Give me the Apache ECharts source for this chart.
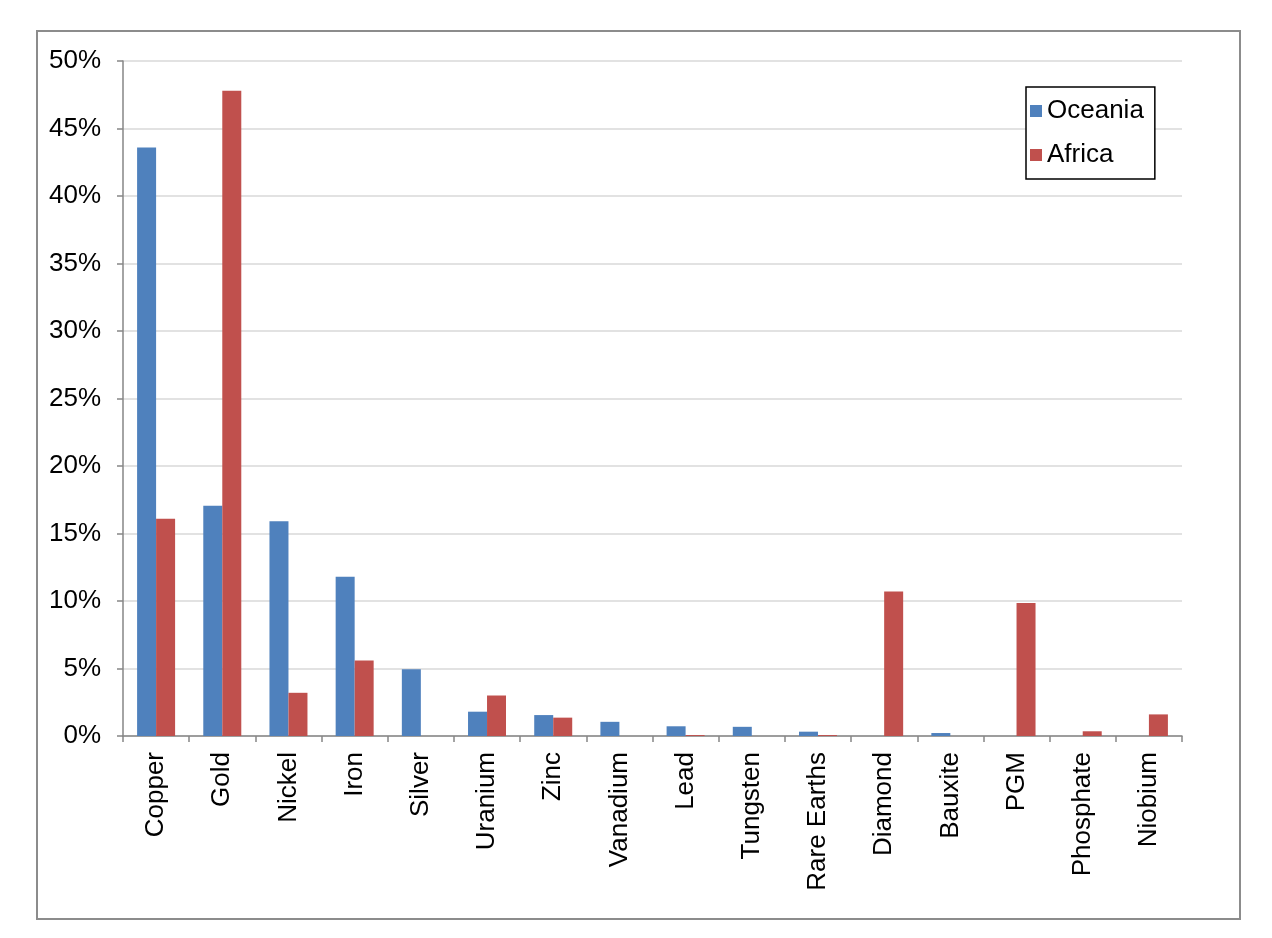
<!DOCTYPE html>
<html>
<head>
<meta charset="utf-8">
<script src="https://cdn.jsdelivr.net/npm/echarts@6/dist/echarts.min.js"></script>
<style>
  html, body { margin: 0; padding: 0; background: #fff; }
  .frame {
    position: absolute; left: 36px; top: 30px;
    width: 1201px; height: 886px;
    border: 2px solid #8c8c8c;
  }
  #chart { position: absolute; left: 0; top: 0; width: 1272px; height: 938px; }
</style>
</head>
<body>
<div class="frame"></div>
<div id="chart"></div>
<script>
const minerals = ["Copper", "Gold", "Nickel", "Iron", "Silver", "Uranium", "Zinc", "Vanadium",
  "Lead", "Tungsten", "Rare Earths", "Diamond", "Bauxite", "PGM", "Phosphate", "Niobium"];
const oceania = [43.6, 17.05, 15.9, 11.8, 4.95, 1.8, 1.55, 1.05, 0.72, 0.68, 0.32, 0, 0.22, 0, 0, 0];
const africa = [16.1, 47.8, 3.2, 5.6, 0, 3.0, 1.36, 0, 0.07, 0, 0.07, 10.7, 0, 9.85, 0.35, 1.6];
const yTicks = { min: 0, max: 50, step: 5 };

const font = "'Liberation Sans', Arial, sans-serif";
const myChart = echarts.init(document.getElementById("chart"));
myChart.setOption({
  animation: false,
  textStyle: { fontFamily: font },
  grid: { left: 123, right: 90, top: 61, bottom: 202 },
  legend: {
    orient: "vertical",
    left: 1026,
    top: 87,
    padding: [11, 11, 11, 4],
    itemGap: 18,
    itemWidth: 12,
    itemHeight: 12,
    icon: "rect",
    borderColor: "#000",
    borderWidth: 1.5,
    backgroundColor: "#fff",
    textStyle: { fontSize: 26, color: "#000", fontFamily: font },
    data: ["Oceania", "Africa"]
  },
  xAxis: {
    type: "category",
    data: minerals,
    axisLine: { lineStyle: { color: "#868686", width: 1.5 } },
    axisTick: { show: true, length: 6, lineStyle: { color: "#868686", width: 1.5 } },
    axisLabel: { rotate: 90, fontSize: 26, color: "#000", margin: 16, interval: 0 }
  },
  yAxis: {
    type: "value",
    min: yTicks.min,
    max: yTicks.max,
    interval: yTicks.step,
    axisLine: { show: true, lineStyle: { color: "#868686", width: 1.5 } },
    axisTick: { show: true, length: 6, lineStyle: { color: "#868686", width: 1.5 } },
    axisLabel: { formatter: "{value}%", fontSize: 26, color: "#000", margin: 22 },
    splitLine: { lineStyle: { color: "#d9d9d9", width: 1.5 } }
  },
  series: [
    {
      name: "Oceania",
      type: "bar",
      data: oceania,
      barWidth: 19,
      barGap: "0%",
      itemStyle: { color: "#4f81bd" }
    },
    {
      name: "Africa",
      type: "bar",
      data: africa,
      barWidth: 19,
      barGap: "0%",
      itemStyle: { color: "#c0504d" }
    }
  ]
});
</script>
</body>
</html>
